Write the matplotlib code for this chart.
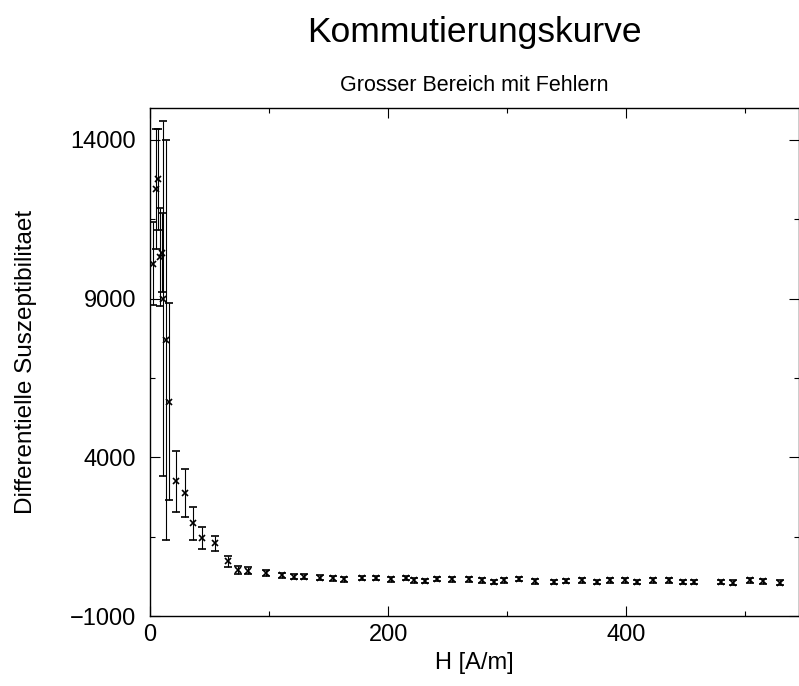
import matplotlib
matplotlib.use('Agg')
import matplotlib.pyplot as plt
from matplotlib.ticker import MultipleLocator, FixedLocator

plt.rcParams['font.family'] = ['Liberation Sans', 'DejaVu Sans']

# Feldstaerke H [A/m]
H = [2.8, 5.0, 6.4, 8.4, 9.8, 11.2, 13.2, 16.2, 21.8, 29.1, 36.4, 43.7, 54.4,
     65.5, 74.0, 82.6, 97.5, 110.6, 121.0, 129.7, 143.0, 153.5, 163.0, 178.4,
     190.0, 202.0, 215.0, 222.0, 231.0, 241.0, 254.0, 267.5, 279.0, 288.5,
     297.7, 310.0, 323.0, 339.0, 349.0, 362.8, 375.0, 386.6, 398.6, 409.0,
     422.0, 436.0, 447.6, 456.6, 479.5, 489.4, 503.6, 514.8, 529.0]

# differentielle Suszeptibilitaet
chi = [10100, 12450, 12750, 10300, 10450, 9000, 7700, 5750, 3250, 2880, 1920,
       1460, 1290, 720, 440, 420, 350, 280, 240, 240, 210, 190, 155, 195,
       195, 155, 195, 120, 100, 175, 155, 155, 120, 70,
       120, 175, 90, 70, 100, 120, 70, 120, 120, 70,
       120, 120, 70, 70, 70, 50, 120, 90, 50]

# Fehler
chi_err = [1300, 1900, 1600, 1550, 1250, 5600, 6300, 3100, 960, 750, 510,
           350, 230, 180, 130, 110, 90, 80, 80, 80, 75, 75, 70, 70,
           70, 70, 70, 70, 70, 70, 70, 70, 70, 70,
           70, 70, 70, 70, 70, 70, 70, 70, 70, 70,
           70, 70, 70, 70, 70, 70, 70, 70, 70]

fig = plt.figure(figsize=(7.99, 6.86), dpi=100)
ax = fig.add_axes([0.1877, 0.102, 0.8123, 0.7405])

ax.errorbar(H, chi, yerr=chi_err, fmt='x', color='black', ecolor='black',
            markersize=5, markeredgewidth=1.2, elinewidth=0.8,
            capsize=3, capthick=0.8)

ax.set_xlim(0, 545)
ax.set_ylim(-1000, 15000)
ax.set_xticks([0, 200, 400])
ax.xaxis.set_minor_locator(MultipleLocator(100))
ax.set_yticks([-1000, 4000, 9000, 14000])
ax.set_yticklabels(['\u22121000', '4000', '9000', '14000'])
ax.yaxis.set_minor_locator(FixedLocator([1500, 6500, 11500]))
ax.tick_params(which='both', direction='in', top=True, right=True, labelsize=17)
ax.tick_params(which='major', length=7, width=0.8)
ax.tick_params(which='minor', length=3.5, width=0.8)
ax.tick_params(axis='y', pad=10)
ax.tick_params(axis='x', pad=6)
for s in ax.spines.values():
    s.set_linewidth(1.0)

ax.set_xlabel('H [A/m]', fontsize=17, labelpad=4)
ax.set_ylabel('Differentielle Suszeptibilitaet', fontsize=17.5, labelpad=24)

fig.text(0.594, 0.953, 'Kommutierungskurve', fontsize=25.5, ha='center', va='center')
fig.text(0.594, 0.876, 'Grosser Bereich mit Fehlern', fontsize=15.5, ha='center', va='center')

fig.savefig('out.png', dpi=100)
